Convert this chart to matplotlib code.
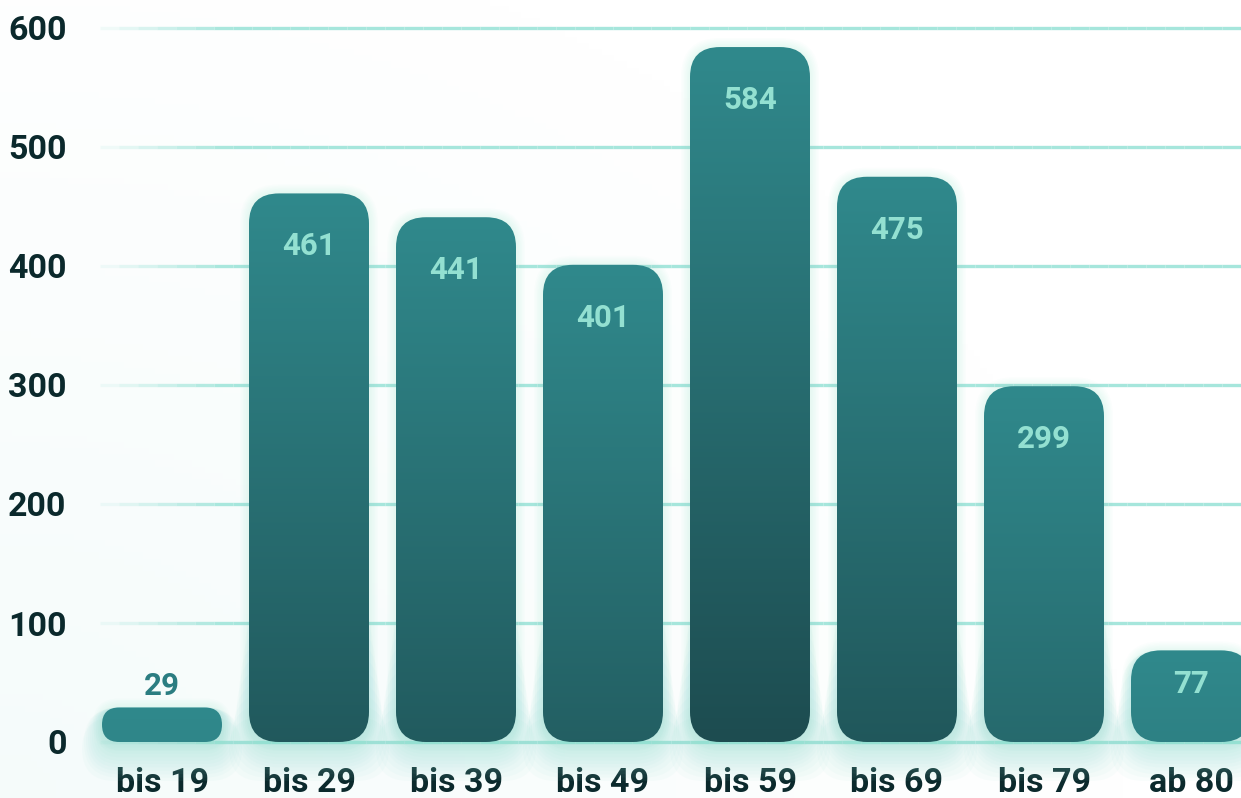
import numpy as np
import matplotlib
matplotlib.use("Agg")
import matplotlib.pyplot as plt
from matplotlib.patches import FancyBboxPatch
from matplotlib.collections import LineCollection
from matplotlib.colors import to_rgb

# Data
categories = ["bis 19", "bis 29", "bis 39", "bis 49", "bis 59", "bis 69", "bis 79", "ab 80"]
values = [29, 461, 441, 401, 584, 475, 299, 77]
yticks = [0, 100, 200, 300, 400, 500, 600]

# Colours
top_col = np.array(to_rgb("#30898c"))
bot_col = np.array(to_rgb("#1d4c50"))
grid_col = "#a6e6dc"
glow_col = "#8fe0d2"
text_col = "#0b292c"
inner_label_col = "#93e0d1"

plt.rcParams["font.family"] = ["Roboto", "DejaVu Sans"]

W, H = 1241, 798
fig = plt.figure(figsize=(W / 100, H / 100), dpi=100)
fig.patch.set_facecolor("white")

# faint background tint
bg = fig.add_axes([0, 0, 1, 1], zorder=-10)
gx, gy = np.meshgrid(np.linspace(0, 1, 200), np.linspace(0, 1, 130))
tint = np.clip(1.0 - np.hypot(gx * 1.1, (1 - gy) * 0.9), 0, 1) * 0.025
img = np.ones((130, 200, 3)) - tint[..., None] * (1 - np.array(to_rgb("#cdeeea")))[None, None, :] * 8
bg.imshow(np.clip(img, 0, 1), extent=[0, 1, 0, 1], aspect="auto", origin="upper")
bg.axis("off")

# axes placement: y=0 at px 742, y=600 at px 28, first bar centre at px 162, step 147 px
left_px, right_px = 100, W
step_px, c0_px = 147.0, 162.0
ax = fig.add_axes([left_px / W, (H - 742) / H, (right_px - left_px) / W, 714 / H])
ax.set_facecolor("none")
ax.set_xlim((left_px - c0_px) / step_px, (right_px - c0_px) / step_px)
ax.set_ylim(0, 600)

px_x = 1.0 / step_px      # x data units per pixel
px_y = 600.0 / 714.0      # y data units per pixel
aspect = px_y / px_x

# gridlines fading in from the left
xl0, xl1 = ax.get_xlim()
n_seg = 60
xs = np.linspace(xl0, xl1, n_seg + 1)
fade = np.clip((xs[:-1] - xl0) / (120 * px_x), 0, 1)
for t in yticks:
    segs = [[(xs[i], t), (xs[i + 1], t)] for i in range(n_seg)]
    cols = [(*to_rgb(grid_col), 0.15 + 0.85 * f) for f in fade]
    lc = LineCollection(segs, colors=cols, linewidths=2.4, zorder=1, clip_on=False)
    ax.add_collection(lc)

bar_w = 120 * px_x
rad_px = 30.0
vmax = max(values)

for i, v in enumerate(values):
    x0 = i - bar_w / 2
    r = min(rad_px * px_x, v / aspect / 2)
    # soft glow, strongest under the bar and fading upwards
    for k in range(10, 0, -1):
        e = k * 2.0
        h = min(v, (11 - k) * 11 + 10)
        rr = min(r, h / aspect / 2) + e * px_x
        g = FancyBboxPatch((x0 - e * px_x, -e * px_y * 1.7 - 5 * px_y), bar_w + 2 * e * px_x,
                           h + e * px_y * 1.7 + 5 * px_y,
                           boxstyle=f"round,pad=0,rounding_size={rr}",
                           mutation_aspect=aspect, linewidth=0,
                           facecolor=glow_col, alpha=0.05, zorder=2, clip_on=False)
        ax.add_patch(g)
    for k in range(6, 0, -1):
        e = k * 1.5
        g2 = FancyBboxPatch((x0 - e * px_x, -e * px_y), bar_w + 2 * e * px_x,
                            v + 2 * e * px_y,
                            boxstyle=f"round,pad=0,rounding_size={r + e * px_x}",
                            mutation_aspect=aspect, linewidth=0,
                            facecolor=glow_col, alpha=0.03, zorder=2, clip_on=False)
        ax.add_patch(g2)
    patch = FancyBboxPatch((x0, 0), bar_w, v,
                           boxstyle=f"round,pad=0,rounding_size={r}",
                           mutation_aspect=aspect, linewidth=0,
                           facecolor="none", zorder=3, clip_on=False)
    ax.add_patch(patch)
    frac = v / vmax
    c_bot = top_col + (bot_col - top_col) * frac
    grad = np.linspace(0, 1, 256)[:, None]
    grad_img = top_col[None, None, :] * (1 - grad[..., None]) + c_bot[None, None, :] * grad[..., None]
    im = ax.imshow(grad_img, extent=[x0, x0 + bar_w, 0, v], aspect="auto",
                   origin="upper", zorder=3, interpolation="bilinear")
    im.set_clip_path(patch)

    if v < 50:
        ax.text(i, v + 18, str(v), ha="center", va="center", fontsize=22.5,
                fontweight="bold", color="#2b7d81", zorder=5, clip_on=False)
    else:
        off = min(44.5, 0.37 * v)
        ax.text(i, v - off, str(v), ha="center", va="center", fontsize=22.5,
                fontweight="bold", color=inner_label_col, zorder=5, clip_on=False)

ax.set_xticks(range(len(categories)))
ax.set_xticklabels(categories)
ax.set_yticks(yticks)
ax.tick_params(axis="x", length=0, pad=18, labelsize=24.5, labelcolor=text_col)
ax.tick_params(axis="y", length=0, pad=24, labelsize=24.5, labelcolor=text_col)
for lab in ax.get_xticklabels() + ax.get_yticklabels():
    lab.set_fontweight("bold")
for s in ax.spines.values():
    s.set_visible(False)

fig.savefig("out.png", dpi=100)
